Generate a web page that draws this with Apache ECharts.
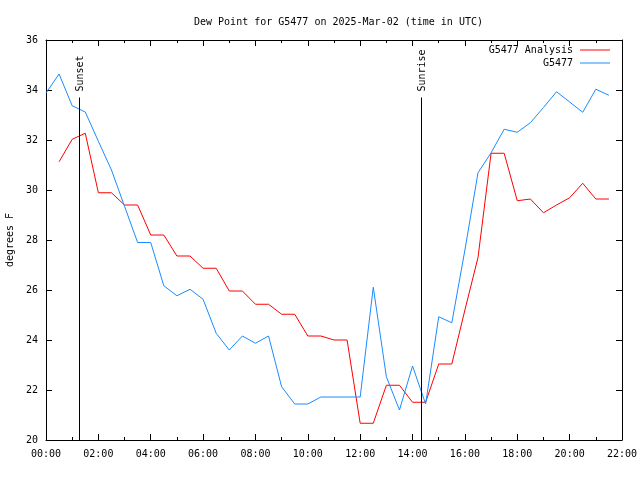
<!DOCTYPE html>
<html>
<head>
<meta charset="utf-8">
<script src="https://cdn.jsdelivr.net/npm/echarts@6/dist/echarts.min.js"></script>
<style>html,body{margin:0;padding:0;background:#fff}#c{width:640px;height:480px}</style>
</head>
<body>
<div id="c"></div>
<script>
// Times in hours UTC
const obsTimes = [0,0.5,1,1.5,2,2.5,3,3.5,4,4.5,5,5.5,6,6.5,7,7.5,8,8.5,9,9.5,10,10.5,11,11.5,12,12.5,13,13.5,14,14.5,15,15.5,16,16.5,17,17.5,18,18.5,19,19.5,20,20.5,21,21.5];
const obsValues = [33.88,34.64,33.37,33.12,31.95,30.8,29.35,27.9,27.9,26.17,25.77,26.03,25.63,24.27,23.6,24.16,23.87,24.16,22.13,21.44,21.44,21.72,21.72,21.72,21.72,26.11,22.53,21.2,22.96,21.44,24.93,24.69,27.6,30.69,31.49,32.43,32.31,32.69,33.3,33.93,33.52,33.11,34.03,33.79];
const anaTimes = [0.5,1,1.5,2,2.5,3,3.5,4,4.5,5,5.5,6,6.5,7,7.5,8,8.5,9,9.5,10,10.5,11,11.5,12,12.5,13,13.5,14,14.5,15,15.5,16,16.5,17,17.5,18,18.5,19,19.5,20,20.5,21,21.5];
const anaValues = [31.13,32.03,32.27,29.89,29.89,29.4,29.4,28.2,28.2,27.36,27.36,26.87,26.87,25.96,25.96,25.43,25.43,25.03,25.03,24.16,24.16,24.0,24.0,20.67,20.67,22.19,22.19,21.51,21.51,23.04,23.04,25.2,27.3,31.47,31.47,29.57,29.64,29.09,29.4,29.69,30.27,29.64,29.64];
const sunTimes = [1.27, 14.32];
const sunTops = [33.7, 33.7];
const sunLabels = ['Sunset', 'Sunrise'];
const seriesNames = ['G5477 Analysis', 'G5477'];
const titleText = 'Dew Point for G5477 on 2025-Mar-02 (time in UTC)';
const yName = 'degrees F';
const xMin = 0, xMax = 22, xStep = 2;
const yMin = 20, yMax = 36, yStep = 2;

const FONT = '"DejaVu Sans Mono", "Liberation Mono", monospace';
const pad = n => (n < 10 ? '0' : '') + n;

function axisCommon(showLabel) {
  return {
    axisLine: { show: true, onZero: false, lineStyle: { color: '#000', width: 1 } },
    axisTick: { show: true, inside: true, length: 6, lineStyle: { color: '#000' } },
    splitLine: { show: false },
    axisLabel: { show: showLabel, color: '#000', fontFamily: FONT, fontSize: 10 }
  };
}

function legendFor(name, top, color) {
  return {
    data: [{ name: name, icon: 'rect', itemStyle: { color: color } }],
    right: 30, top: top, padding: 0, align: 'right',
    itemWidth: 30, itemHeight: 1,
    textStyle: { fontFamily: FONT, fontSize: 10, color: '#000', padding: [0, 2, 0, 0] }
  };
}

const chart = echarts.init(document.getElementById('c'), null, { renderer: 'canvas' });
const option = {
  animation: false,
  backgroundColor: '#fff',
  title: {
    text: titleText,
    left: 189, top: 12,
    textStyle: { fontFamily: FONT, fontSize: 10, fontWeight: 'normal', color: '#000' }
  },
  legend: [
    legendFor(seriesNames[0], 45, '#ff0000'),
    legendFor(seriesNames[1], 58, '#1a8cff')
  ],
  grid: { left: 46, right: 18, top: 40, bottom: 40, containLabel: false, outerBoundsMode: 'none' },
  xAxis: [
    Object.assign({ type: 'value', min: xMin, max: xMax, interval: xStep, position: 'bottom',
      minorTick: { show: true, splitNumber: 2, length: 3, lineStyle: { color: '#000' } } }, axisCommon(true), {
      axisLabel: { color: '#000', fontFamily: FONT, fontSize: 10, margin: 9, formatter: v => pad(v) + ':00' }
    }),
    Object.assign({ type: 'value', min: xMin, max: xMax, interval: xStep, position: 'top',
      minorTick: { show: true, splitNumber: 2, length: 3, lineStyle: { color: '#000' } } }, axisCommon(false))
  ],
  yAxis: [
    Object.assign({ type: 'value', min: yMin, max: yMax, interval: yStep, position: 'left',
      name: yName, nameLocation: 'middle', nameGap: 31, nameRotate: 90,
      nameTextStyle: { fontFamily: FONT, fontSize: 10, color: '#000' } }, axisCommon(true), {
      axisLabel: { color: '#000', fontFamily: FONT, fontSize: 10, margin: 8 }
    }),
    Object.assign({ type: 'value', min: yMin, max: yMax, interval: yStep, position: 'right' }, axisCommon(false))
  ],
  series: [
    {
      name: seriesNames[0], type: 'line', xAxisIndex: 0, yAxisIndex: 0,
      data: anaTimes.map((t, i) => [t, anaValues[i]]),
      symbol: 'none', lineStyle: { color: '#ff0000', width: 1 }, itemStyle: { color: '#ff0000' }, z: 3
    },
    {
      name: seriesNames[1], type: 'line', xAxisIndex: 0, yAxisIndex: 0,
      data: obsTimes.map((t, i) => [t, obsValues[i]]),
      symbol: 'none', lineStyle: { color: '#1a8cff', width: 1 }, itemStyle: { color: '#1a8cff' }, z: 3
    },
    {
      name: 'sun', type: 'custom', xAxisIndex: 0, yAxisIndex: 0,
      data: sunTimes.map((t, i) => [t, sunTops[i]]),
      encode: { x: 0, y: 1 }, z: 4, silent: true,
      renderItem: function (params, api) {
        const t = api.value(0), top = api.value(1);
        const p0 = api.coord([t, yMin]);
        const p1 = api.coord([t, top]);
        const x = Math.round(p0[0]) + 0.5;
        return {
          type: 'group',
          children: [
            { type: 'line', shape: { x1: x, y1: p0[1], x2: x, y2: p1[1] }, style: { stroke: '#000', lineWidth: 1 } },
            { type: 'text', x: x - 4, y: p1[1] - 6, rotation: Math.PI / 2,
              style: { text: sunLabels[params.dataIndex], font: '10px ' + FONT, fill: '#000',
                       align: 'left', verticalAlign: 'top', textAlign: 'left', textVerticalAlign: 'top' } }
          ]
        };
      }
    }
  ]
};
chart.setOption(option);
</script>
</body>
</html>
